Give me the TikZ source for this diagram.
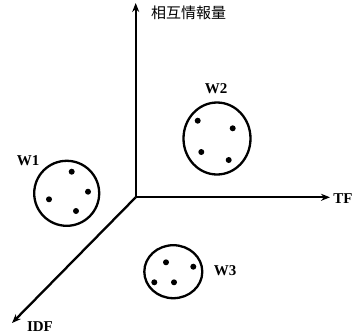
\documentclass[tikz,border=0pt]{standalone}
\usepackage{fontspec}
\setmainfont{Liberation Serif}
\newfontfamily\cjkfont{Noto Sans CJK JP}
\usetikzlibrary{arrows.meta,shapes.geometric}
\begin{document}
\begin{tikzpicture}[x=1pt,y=-1pt,
  axis/.style={line width=2.3pt,-{Stealth[length=9pt,width=7pt]}},
  cluster/.style={draw,line width=2.3pt,ellipse,inner sep=0pt},
  dot/.style={circle,fill,inner sep=0pt,minimum size=6pt},
  lbl/.style={font=\fontsize{15}{15}\selectfont\bfseries,inner sep=0pt}]
\useasboundingbox (0,0) rectangle (355,335);
\coordinate (O) at (135.7,197.3);
\coordinate (Yend) at (135.7,3);
\coordinate (Xend) at (330,197.3);
\coordinate (Zend) at (12,323);
\draw[axis] (O) -- (Yend);
\draw[axis] (O) -- (Xend);
\draw[axis] (O) -- (Zend);
\node[inner sep=0pt,anchor=west,font=\cjkfont\fontsize{15}{15}\selectfont] (ylab) at (151,13) {相互情報量};
\node[lbl] (tf) at (343,199) {TF};
\node[lbl] (idf) at (40,327) {IDF};
% W1
\node[cluster,minimum width=65pt,minimum height=65pt] (w1) at (66.7,193.3) {};
\node[lbl] (w1l) at (28,160.5) {W1};
\node[dot] (a1) at (71.7,171.7) {};
\node[dot] (a2) at (88,191.7) {};
\node[dot] (a3) at (49,199.3) {};
\node[dot] (a4) at (76,211) {};
% W2
\node[cluster,minimum width=67pt,minimum height=72pt] (w2) at (217,138.5) {};
\node[lbl] (w2l) at (216,89) {W2};
\node[dot] (b1) at (197.7,120.7) {};
\node[dot] (b2) at (232.7,128.3) {};
\node[dot] (b3) at (201.3,152) {};
\node[dot] (b4) at (228.7,160) {};
% W3
\node[cluster,minimum width=58pt,minimum height=53pt] (w3) at (173.3,271.7) {};
\node[lbl] (w3l) at (225,271) {W3};
\node[dot] (c1) at (166,262.3) {};
\node[dot] (c2) at (193.3,266.7) {};
\node[dot] (c3) at (154.3,282.3) {};
\node[dot] (c4) at (174,282.3) {};
\end{tikzpicture}
\end{document}
